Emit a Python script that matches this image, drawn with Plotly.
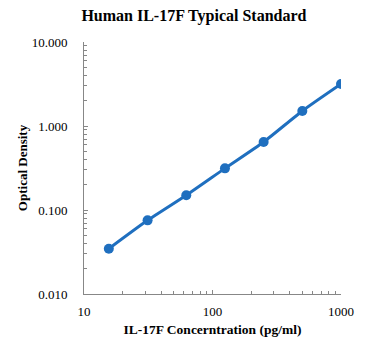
import plotly.graph_objects as go

conc = [15.6, 31.25, 62.5, 125, 250, 500, 1000]
od = [0.0346, 0.0753, 0.150, 0.313, 0.645, 1.51, 3.16]

title_text = "Human IL-17F Typical Standard"
x_title = "IL-17F Concerntration (pg/ml)"
y_title = "Optical Density"
y_tickvals = [0.01, 0.1, 1, 10]
y_ticktext = ["0.010", "0.100", "1.000", "10.000"]
x_tickvals = [10, 100, 1000]
x_ticktext = ["10", "100", "1000"]

blue = "#1f6fbf"
axis_col = "#878787"
serif = "Liberation Serif, Times New Roman, serif"

fig = go.Figure()
fig.add_trace(go.Scatter(
    x=conc, y=od, mode="lines+markers",
    line=dict(color=blue, width=3, shape="spline", smoothing=0.6),
    marker=dict(color=blue, size=10),
    showlegend=False,
))

fig.update_layout(
    width=368, height=349,
    margin=dict(l=84, r=27, t=42, b=55),
    paper_bgcolor="white", plot_bgcolor="white",
    font=dict(family=serif, color="black", size=13),
    title=dict(text="<b>" + title_text + "</b>", x=0.527, xanchor="center",
               y=0.957, yanchor="middle", font=dict(size=16, family=serif)),
)
fig.update_xaxes(
    type="log", range=[1, 3],
    tickvals=x_tickvals, ticktext=x_ticktext,
    ticks="inside", ticklen=4, tickcolor=axis_col,
    showline=True, linecolor=axis_col, linewidth=1,
    showgrid=False, zeroline=False,
    ticklabelstandoff=5,
    minor=dict(ticks="inside", ticklen=3, tickcolor=axis_col, dtick="D1", showgrid=False),
    title=dict(text="<b>" + x_title + "</b>", font=dict(size=13.5, family=serif), standoff=6),
    tickfont=dict(size=13, family=serif),
)
fig.update_yaxes(
    type="log", range=[-2, 1],
    tickvals=y_tickvals, ticktext=y_ticktext,
    ticks="inside", ticklen=4, tickcolor=axis_col,
    showline=True, linecolor=axis_col, linewidth=1,
    showgrid=False, zeroline=False,
    ticklabelstandoff=13,
    minor=dict(ticks="inside", ticklen=3, tickcolor=axis_col, dtick="D1", showgrid=False),
    title=dict(text="<b>" + y_title + "</b>", font=dict(size=13, family=serif), standoff=1),
    tickfont=dict(size=13, family=serif),
)

fig.write_html("out.html")
